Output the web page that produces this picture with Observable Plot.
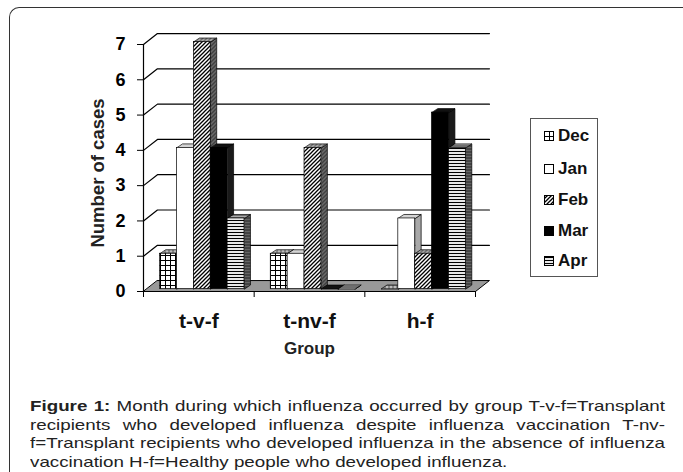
<!DOCTYPE html>
<html><head><meta charset="utf-8">
<script src="https://cdn.jsdelivr.net/npm/d3@7"></script>
<script src="https://cdn.jsdelivr.net/npm/@observablehq/plot@0.6"></script>
<style>
body{margin:0;background:#fff;font-family:"Liberation Sans",Arial,sans-serif;}
#wrap{position:relative;width:683px;height:472px;overflow:hidden;background:#fff;}
#chart{position:absolute;left:0;top:0;}
#frame{position:absolute;left:9px;top:7px;width:720px;height:520px;border-top:1.5px solid #333;border-left:1.5px solid #333;border-top-left-radius:10px;pointer-events:none;}
#legend{position:absolute;left:530px;top:118px;width:68px;height:159px;border:1px solid #555;box-sizing:border-box;background:#fff;}
.item{position:absolute;left:13px;height:20px;display:flex;align-items:center;font-weight:bold;font-size:17px;color:#111;}
.item svg{margin-right:4px;}
#caption{position:absolute;left:30px;top:397px;width:635px;font-size:15px;line-height:18.5px;color:#222;transform-origin:0 0;}
#caption div{white-space:nowrap;}
#caption .j{text-align:justify;text-align-last:justify;white-space:normal;}
</style></head>
<body>
<div id="wrap">
  <div id="chart"></div>
  <div id="legend"></div>
  <div id="frame"></div>
  <div id="caption">
    <div class="j"><b>Figure 1:</b> Month during which influenza occurred by group T-v-f=Transplant</div>
    <div class="j">recipients who developed influenza despite influenza vaccination T-nv-</div>
    <div class="j" id="widest">f=Transplant recipients who developed influenza in the absence of influenza</div>
    <div>vaccination H-f=Healthy people who developed influenza.</div>
  </div>
</div>
<script>
// ---- data ----
const groups = ["t-v-f", "t-nv-f", "h-f"];
const months = ["Dec", "Jan", "Feb", "Mar", "Apr"];
const dec = [1, 1, 0];
const jan = [4, 1, 2];
const feb = [7, 4, 1];
const mar = [4, 0, 5];
const apr = [2, 0, 4];
const yTicks = [0, 1, 2, 3, 4, 5, 6, 7];
const xLabel = "Group";
const yLabel = "Number of cases";

// ---- 3D geometry (in data units) ----
const series = [dec, jan, feb, mar, apr];
const OFF = 0.15, W = 0.1525;      // bar offset and width within a group
const DX = 0.054, DY = 0.113;      // bar depth
const S = 0.07;                    // bar lift (bars stand mid-depth)
const WX = 0.126, WY = 0.31;       // wall/floor depth
const NG = groups.length;
const YMAX = yTicks[yTicks.length - 1];

const pat = m => ({front: `url(#p-${m})`, top: `url(#p-${m}-top)`, side: `url(#p-${m}-side)`});

const bars = groups.flatMap((g, gi) => months.map((m, mi) => ({
  group: g, month: m, value: series[mi][gi],
  x1: gi + OFF + mi * W, x2: gi + OFF + (mi + 1) * W
})));

const faces = [];
bars.forEach((b, k) => {
  const p = pat(b.month), v = b.value + S;
  [[b.x2, S], [b.x2 + DX, S + DY], [b.x2 + DX, v + DY], [b.x2, v]]
    .forEach(([x, y]) => faces.push({id: `s${k}`, x, y, fill: p.side}));
  [[b.x1, v], [b.x2, v], [b.x2 + DX, v + DY], [b.x1 + DX, v + DY]]
    .forEach(([x, y]) => faces.push({id: `t${k}`, x, y, fill: p.top}));
});

const grid = yTicks.filter(v => v > 0).flatMap(v => [
  {t: v, x: 0, y: v}, {t: v, x: WX, y: v + WY}, {t: v, x: NG + WX, y: v + WY}
]);
const floor = [{x: 0, y: 0}, {x: NG, y: 0}, {x: NG + WX, y: WY}, {x: WX, y: WY}];

const chart = Plot.plot({
  width: 683, height: 360,
  marginLeft: 143, marginRight: 208, marginTop: 44, marginBottom: 69,
  x: {domain: [0, NG], nice: false},
  y: {domain: [0, YMAX], nice: false},
  color: {type: "identity"},
  style: {fontFamily: "Liberation Sans, Arial, sans-serif", fontWeight: "bold", fontSize: "17px", color: "#000", background: "transparent", overflow: "visible"},
  marks: [
    Plot.line(grid, {x: "x", y: "y", z: "t", stroke: "#000", strokeWidth: 1.2}),
    Plot.line(floor, {x: "x", y: "y", curve: "linear-closed", fill: "#999", stroke: "#000", strokeWidth: 1}),
    Plot.ruleX([0], {y1: 0, y2: YMAX, stroke: "#000", strokeWidth: 1.2}),
    Plot.axisY(yTicks, {tickSize: 6, tickPadding: 12, fontSize: 18, fontWeight: "bold", label: null, stroke: "#000"}),
    Plot.axisX(d3.range(NG + 1), {tickSize: 6, tickFormat: () => "", label: null, stroke: "#000"}),
    Plot.line(faces, {x: "x", y: "y", z: "id", fill: "fill", stroke: "#000", strokeWidth: 0.7, curve: "linear-closed"}),
    Plot.rect(bars, {x1: "x1", x2: "x2", y1: () => S, y2: d => d.value + S, fill: d => pat(d.month).front, stroke: "#000", strokeWidth: 0.7}),
    Plot.text(groups, {x: (d, i) => i + 0.5, y: () => 0, dy: 30, fontSize: 21, fontWeight: "bold", fill: "#111"}),
    Plot.text([xLabel], {x: () => NG / 2, y: () => 0, dy: 57, fontSize: 17, fontWeight: "bold", fill: "#222"}),
    Plot.text([yLabel], {frameAnchor: "left", textAnchor: "middle", dx: -45, dy: 5, rotate: -90, fontSize: 18.5, fontWeight: "bold", fill: "#222"})
  ]
});

const defs = `
<pattern id="p-Dec" patternUnits="userSpaceOnUse" width="5" height="5"><rect width="5" height="5" fill="#fff"/><path d="M0,0.5H5M0.5,0V5" stroke="#000" stroke-width="1"/></pattern>
<pattern id="p-Dec-top" patternUnits="userSpaceOnUse" width="4" height="4"><rect width="4" height="4" fill="#bbb"/><path d="M0,0.5H4M0.5,0V4" stroke="#555" stroke-width="1"/></pattern>
<pattern id="p-Dec-side" patternUnits="userSpaceOnUse" width="4" height="4"><rect width="4" height="4" fill="#888"/><path d="M0,0.5H4M0.5,0V4" stroke="#333" stroke-width="1"/></pattern>
<pattern id="p-Jan" patternUnits="userSpaceOnUse" width="4" height="4"><rect width="4" height="4" fill="#fff"/></pattern>
<pattern id="p-Jan-top" patternUnits="userSpaceOnUse" width="4" height="4"><rect width="4" height="4" fill="#d4d4d4"/></pattern>
<pattern id="p-Jan-side" patternUnits="userSpaceOnUse" width="4" height="4"><rect width="4" height="4" fill="#a8a8a8"/></pattern>
<pattern id="p-Feb" patternUnits="userSpaceOnUse" width="4" height="4"><rect width="4" height="4" fill="#fff"/><path d="M-1,1L1,-1M0,4L4,0M3,5L5,3" stroke="#000" stroke-width="1.3"/></pattern>
<pattern id="p-Feb-top" patternUnits="userSpaceOnUse" width="4" height="4"><rect width="4" height="4" fill="#bbb"/><path d="M-1,1L1,-1M0,4L4,0M3,5L5,3" stroke="#444" stroke-width="1.2"/></pattern>
<pattern id="p-Feb-side" patternUnits="userSpaceOnUse" width="4" height="4"><rect width="4" height="4" fill="#777"/><path d="M-1,1L1,-1M0,4L4,0M3,5L5,3" stroke="#222" stroke-width="1.2"/></pattern>
<pattern id="p-Mar" patternUnits="userSpaceOnUse" width="4" height="4"><rect width="4" height="4" fill="#000"/></pattern>
<pattern id="p-Mar-top" patternUnits="userSpaceOnUse" width="4" height="4"><rect width="4" height="4" fill="#111"/></pattern>
<pattern id="p-Mar-side" patternUnits="userSpaceOnUse" width="4" height="4"><rect width="4" height="4" fill="#1a1a1a"/></pattern>
<pattern id="p-Apr" patternUnits="userSpaceOnUse" width="4" height="3"><rect width="4" height="3" fill="#f4f4f4"/><path d="M0,1.5H4" stroke="#000" stroke-width="1.1"/></pattern>
<pattern id="p-Apr-top" patternUnits="userSpaceOnUse" width="4" height="3"><rect width="4" height="3" fill="#aaa"/><path d="M0,1.5H4" stroke="#333" stroke-width="1"/></pattern>
<pattern id="p-Apr-side" patternUnits="userSpaceOnUse" width="4" height="3"><rect width="4" height="3" fill="#666"/><path d="M0,1.5H4" stroke="#222" stroke-width="1"/></pattern>`;
d3.select(chart).insert("defs", ":first-child").html(defs);
document.getElementById("chart").appendChild(chart);

// legend
const legendTops = [17, 50, 81, 112, 142];
const legend = d3.select("#legend");
months.forEach((m, i) => {
  const it = legend.append("div").attr("class", "item").style("top", (legendTops[i] - 10) + "px");
  it.append("svg").attr("width", 10).attr("height", 10)
    .append("rect").attr("x", 0.5).attr("y", 0.5).attr("width", 9).attr("height", 9)
    .attr("fill", `url(#p-${m})`).attr("stroke", "#000").attr("stroke-width", 1);
  it.append("span").text(m);
});

// caption: the source text is set horizontally wide; fit the widest line to the column
const cap = document.getElementById("caption");
const probe = document.createElement("span");
probe.style.whiteSpace = "nowrap";
probe.textContent = document.getElementById("widest").textContent;
cap.appendChild(probe);
const natural = probe.getBoundingClientRect().width;
probe.remove();
const k = Math.max(1, Math.min(1.35, 630 / natural));
cap.style.transform = `scaleX(${k})`;
cap.style.width = (635 / k) + "px";
</script>
</body></html>
